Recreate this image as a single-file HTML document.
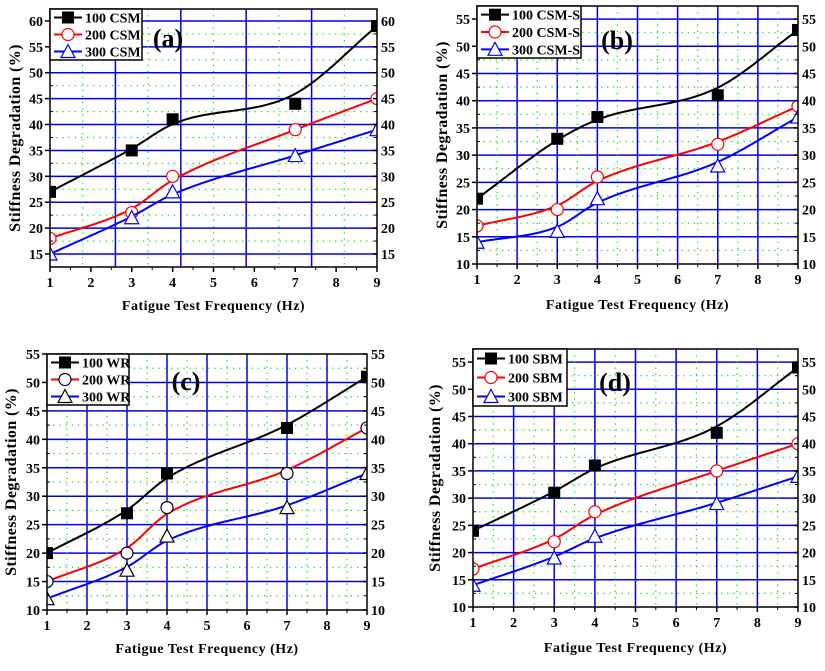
<!DOCTYPE html>
<html><head><meta charset="utf-8"><style>
body{margin:0;background:#fff;}
svg text{font-family:"Liberation Serif",serif;font-weight:bold;}
</style></head><body>
<svg id="fig" width="825" height="666" viewBox="0 0 825 666" xmlns="http://www.w3.org/2000/svg"></svg>
<script>
const xCats=[1,3,4,7,9];
const a100=[27,35,41,44,59], a200=[18,23,30,39,45], a300=[15,22,27,34,39];
const b100=[22,33,37,41,53], b200=[17,20,26,32,39], b300=[14,16,22,28,37];
const c100=[20,27,34,42,51], c200=[15,20,28,34,42], c300=[12,17,23,28,34];
const d100=[24,31,36,42,54], d200=[17,22,27.5,35,40], d300=[14,19,23,29,34];
const xTicks=[1,2,3,4,5,6,7,8,9];
const aYTicks=[15,20,25,30,35,40,45,50,55,60];
const bYTicks=[10,15,20,25,30,35,40,45,50,55];
const aNames=['100 CSM','200 CSM','300 CSM'];
const bNames=['100 CSM-S','200 CSM-S','300 CSM-S'];
const cNames=['100 WR','200 WR','300 WR'];
const dNames=['100 SBM','200 SBM','300 SBM'];

const NS='http://www.w3.org/2000/svg';
const svg=document.getElementById('fig');
function mk(tag,at,parent){const e=document.createElementNS(NS,tag);for(const k in at)e.setAttribute(k,at[k]);(parent||svg).appendChild(e);return e;}

function smoothFn(xs,ys){
  // lightly smoothed data then monotone cubic (Fritsch-Carlson)
  const n=xs.length;
  const sy=ys.map((v,i)=>{if(i===0||i===n-1)return v;const lin=ys[i-1]+(ys[i+1]-ys[i-1])*(xs[i]-xs[i-1])/(xs[i+1]-xs[i-1]);return v*0.75+lin*0.25;});
  const d=[],m=[];
  for(let i=0;i<n-1;i++)d.push((sy[i+1]-sy[i])/(xs[i+1]-xs[i]));
  m[0]=d[0];m[n-1]=d[n-2];
  for(let i=1;i<n-1;i++)m[i]=d[i-1]*d[i]<=0?0:(d[i-1]+d[i])/2;
  for(let i=0;i<n-1;i++){if(d[i]===0){m[i]=m[i+1]=0;continue;}const a=m[i]/d[i],b=m[i+1]/d[i],s=a*a+b*b;if(s>9){const t=3/Math.sqrt(s);m[i]=t*a*d[i];m[i+1]=t*b*d[i];}}
  return x=>{let i=0;while(i<n-2&&x>xs[i+1])i++;const h=xs[i+1]-xs[i],t=(x-xs[i])/h;
    const h00=2*t*t*t-3*t*t+1,h10=t*t*t-2*t*t+t,h01=-2*t*t*t+3*t*t,h11=t*t*t-t*t;
    return h00*sy[i]+h10*h*m[i]+h01*sy[i+1]+h11*h*m[i+1];};
}

function panel(cfg){
  const g=mk('g',{});
  
  
  const {L,R,T,B,ymin,ymax}=cfg;
  const X=v=>L+(v-1)/8*(R-L);
  const Y=v=>B-(v-ymin)/(ymax-ymin)*(B-T);
  const cid='clip'+cfg.id;
  const cp=mk('clipPath',{id:cid},g);mk('rect',{x:L,y:T,width:R-L,height:B-T},cp);
  for(let v=ymin;v<=ymax;v+=2.5){const k=Math.round(v*10)%50;const yy=Y(v);if(yy<=T+1||yy>=B-1)continue;
    if(k===0){const l=mk('line',{x1:L,x2:R,y1:yy,y2:yy,stroke:'#0000ee','stroke-width':1.5},g);}
    else{const l=mk('line',{x1:L,x2:R,y1:yy,y2:yy,stroke:'#00dd00','stroke-width':1.2,'stroke-dasharray':'1.2,5'},g);}}
  cfg.blueX.forEach(v=>{const l=mk('line',{x1:X(v),x2:X(v),y1:T,y2:B,stroke:'#0000ee','stroke-width':1.5},g);});
  cfg.greenX.forEach(v=>{const l=mk('line',{x1:X(v),x2:X(v),y1:T,y2:B,stroke:'#00dd00','stroke-width':1.2,'stroke-dasharray':'1.2,5'},g);});
  const cols=['#000','#ff0000','#0000ff'];
  const mcols=cfg.blackMarkers?['#000','#000','#000']:cols;
  const cg=mk('g',{'clip-path':'url(#'+cid+')'},g);
  cfg.series.forEach((ys,si)=>{
    const f=smoothFn(xCats,ys);let d='';
    for(let i=0;i<=160;i++){const xv=1+8*i/160;d+=(i?'L':'M')+X(xv).toFixed(1)+','+Y(f(xv)).toFixed(1);}
    const p=mk('path',{d,fill:'none',stroke:cols[si],'stroke-width':2},cg);
    
    
    ys.forEach((v,i)=>{const cx=X(xCats[i]),cy=Y(v);drawMarker(cg,si,cx,cy,mcols[si]);});
  });
  const bx=mk('rect',{x:L,y:T,width:R-L,height:B-T,fill:'none',stroke:'#000','stroke-width':1.5},g);
  
  xTicks.forEach(v=>{mk('line',{x1:X(v),x2:X(v),y1:B,y2:B+5,stroke:'#000','stroke-width':1.5},g);
    if(v<9)mk('line',{x1:X(v+0.5),x2:X(v+0.5),y1:B,y2:B+3,stroke:'#000','stroke-width':1},g);
    const t=mk('text',{x:X(v),y:B+20,'font-size':14,'text-anchor':'middle'},g);t.textContent=v;
    });
  cfg.yTicks.forEach(v=>{const yy=Y(v);
    mk('line',{x1:L-5,x2:L,y1:yy,y2:yy,stroke:'#000','stroke-width':1.5},g);
    mk('line',{x1:R-4,x2:R,y1:yy,y2:yy,stroke:'#000','stroke-width':1.5},g);
    const hy=Y(v+2.5);if(hy>T){mk('line',{x1:L,x2:L+3,y1:hy,y2:hy,stroke:'#000','stroke-width':1},g);mk('line',{x1:R-3,x2:R,y1:hy,y2:hy,stroke:'#000','stroke-width':1},g);}
    const t=mk('text',{x:L-7,y:yy+5,'font-size':14,'text-anchor':'end'},g);t.textContent=v;
    
    const t2=mk('text',{x:R+4,y:yy+5,'font-size':14},g);t2.textContent=v;
    });
  const xt=mk('text',{x:(L+R)/2,y:cfg.xtY,'font-size':14,'text-anchor':'middle','letter-spacing':'0.5'},g);
  xt.textContent='Fatigue Test Frequency (Hz)';
  const yt=mk('text',{x:0,y:0,'font-size':16,'text-anchor':'middle','letter-spacing':'0.4',transform:`translate(${cfg.ytX},${(T+B)/2}) rotate(-90)`},g);
  yt.textContent='Stiffness Degradation (%)';
  const lg=mk('g',{},g);
  mk('rect',{x:L,y:T,width:cfg.legW,height:cfg.legH,fill:'#fff',stroke:'#000','stroke-width':1.5},lg);
  cfg.names.forEach((nm,i)=>{const yy=T+cfg.legH*(i+0.5)/3;
    const e=mk('g',{},lg);
    mk('line',{x1:L+4,x2:L+32,y1:yy,y2:yy,stroke:cols[i],'stroke-width':2},e);
    drawMarker(e,i,L+18,yy,mcols[i]);
    const t=mk('text',{x:L+35,y:yy+5,'font-size':14},e);t.textContent=nm;});
  const lab=mk('text',{x:cfg.labX,y:T+cfg.labDY,'font-size':26,'text-anchor':'middle'},g);
  lab.textContent='('+cfg.id+')';
}
function drawMarker(par,si,cx,cy,col){
  let m;
  if(si===0)m=mk('rect',{x:cx-6,y:cy-6,width:12,height:12,fill:'#000'},par);
  else if(si===1)m=mk('circle',{cx,cy,r:6,fill:'#fff',stroke:col,'stroke-width':1.2},par);
  else m=mk('polygon',{points:`${cx},${cy-7} ${cx-7},${cy+6} ${cx+7},${cy+6}`,fill:'#fff',stroke:col,'stroke-width':1.2},par);
  
}
const intX=[2,3,4,5,6,7,8], halfX=[1.5,2.5,3.5,4.5,5.5,6.5,7.5,8.5];
panel({id:'a',L:50,R:377,T:9,B:267,ymin:12.49,ymax:62.3,yTicks:aYTicks,blueX:[2.6,4.2,5.8,7.4],greenX:[1.8,3.4,5,6.6,8.2],series:[a100,a200,a300],names:aNames,xtY:310,ytX:20,legW:92,legH:51,labX:168,labDY:38});
panel({id:'b',L:477,R:798,T:6,B:264,ymin:10,ymax:57.4,yTicks:bYTicks,blueX:intX,greenX:halfX,series:[b100,b200,b300],names:bNames,xtY:309,ytX:447,legW:104,legH:52,labX:617,labDY:43});
panel({id:'c',L:47,R:367,T:354,B:610,ymin:10,ymax:55,yTicks:bYTicks,blueX:intX,greenX:halfX,series:[c100,c200,c300],names:cNames,xtY:653,ytX:16,legW:82,legH:51,labX:186,labDY:36,blackMarkers:true});
panel({id:'d',L:473,R:798,T:349,B:607,ymin:10,ymax:57.4,yTicks:bYTicks,blueX:intX,greenX:halfX,series:[d100,d200,d300],names:dNames,xtY:652,ytX:440,legW:94,legH:57,labX:615,labDY:42});
</script>
</body></html>
